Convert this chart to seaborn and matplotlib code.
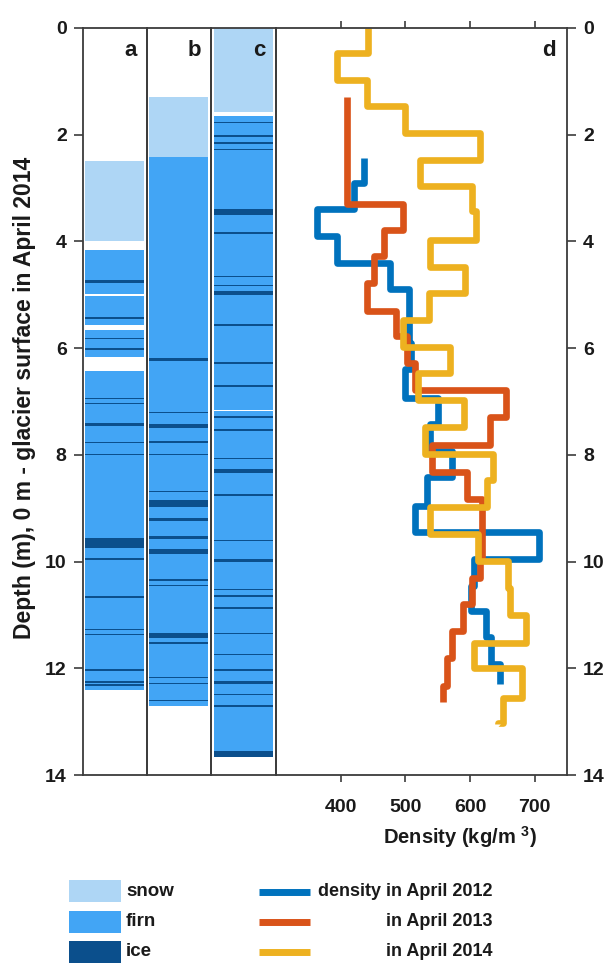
import matplotlib
matplotlib.use("Agg")
import matplotlib.pyplot as plt
import seaborn as sns
import pandas as pd
from matplotlib.patches import Rectangle
from matplotlib.lines import Line2D

# ---------------- data ----------------
# stratigraphy columns: (top, bottom) depth in m
snow_a = [(2.5, 4.0)]
firn_a = [(4.17, 4.99), (5.02, 5.57), (5.66, 6.17), (6.43, 12.4)]
ice_a = [(4.73, 4.77), (5.42, 5.46), (5.81, 5.82), (6.0, 6.04), (6.74, 6.75), (6.94, 6.95),
         (7.03, 7.04), (7.12, 7.13), (7.40, 7.46), (7.76, 7.77), (7.99, 8.0), (8.35, 8.36),
         (9.55, 9.74), (9.94, 9.97), (10.04, 10.05), (10.65, 10.69), (11.26, 11.29),
         (11.35, 11.38), (12.02, 12.05), (12.23, 12.27), (12.30, 12.33)]

snow_b = [(1.3, 2.42)]
firn_b = [(2.42, 12.7)]
ice_b = [(3.59, 3.60), (6.19, 6.25), (7.20, 7.21), (7.43, 7.50), (7.74, 7.78), (7.98, 8.0),
         (8.68, 8.69), (8.84, 8.97), (9.19, 9.24), (9.53, 9.57), (9.77, 9.85), (10.33, 10.36),
         (10.43, 10.45), (11.33, 11.44), (11.50, 11.54), (12.17, 12.19), (12.27, 12.29),
         (12.60, 12.62)]

snow_c = [(0.0, 1.58)]
firn_c = [(1.65, 7.15), (7.18, 13.67)]
ice_c = [(1.76, 1.78), (2.0, 2.04), (2.13, 2.17), (2.26, 2.28), (3.40, 3.51), (3.82, 3.86),
         (4.65, 4.67), (4.82, 4.84), (4.93, 5.0), (5.34, 5.35), (5.55, 5.58), (5.88, 5.89),
         (5.97, 5.98), (6.26, 6.30), (6.70, 6.72), (7.27, 7.31), (7.52, 7.56), (8.06, 8.07),
         (8.26, 8.34), (8.74, 8.78), (9.29, 9.30), (9.59, 9.61), (9.96, 10.0), (10.52, 10.54),
         (10.63, 10.67), (10.86, 10.89), (11.33, 11.35), (11.73, 11.75), (12.01, 12.05),
         (12.23, 12.29), (12.49, 12.51), (12.69, 12.73), (13.55, 13.66)]

# density profiles: layer boundaries (m) and density per layer (kg/m3)
bounds_2012 = [2.43, 2.9, 3.4, 3.9, 4.4, 4.9, 5.9, 6.4, 6.93, 7.42, 7.93, 8.42, 8.95,
               9.45, 9.95, 10.45, 10.92, 11.42, 11.92, 12.3]
dens_2012 = [436, 420, 364, 395, 477, 505, 508, 500, 551, 538, 572, 533, 515, 707, 606,
             601, 625, 633, 646]

bounds_2013 = [1.3, 3.29, 3.78, 4.28, 4.78, 5.31, 5.78, 6.28, 6.79, 7.29, 7.82, 8.32,
               8.83, 9.92, 10.3, 10.8, 11.3, 11.8, 12.33, 12.64]
dens_2013 = [410, 497, 467, 451, 441, 485, 503, 515, 656, 631, 541, 596, 618, 615, 603,
             589, 572, 564, 559]

bounds_2014 = [0.0, 0.47, 0.97, 1.47, 1.97, 2.47, 2.97, 3.43, 3.97, 4.47, 4.97, 5.47,
               5.97, 6.47, 6.97, 7.48, 7.99, 8.48, 8.98, 9.48, 9.98, 10.5, 11.0, 11.52,
               12.0, 12.55, 13.02, 13.05]
dens_2014 = [443, 395, 441, 500, 616, 523, 603, 610, 538, 592, 536, 497, 569, 520, 591,
             531, 635, 626, 538, 613, 659, 662, 687, 606, 680, 651, 643]

panel_letters = ["a", "b", "c", "d"]
depth_ticks = [0, 2, 4, 6, 8, 10, 12, 14]
density_ticks = [400, 500, 600, 700]
layer_names = ["snow", "firn", "ice"]
layer_colors = ["#AED6F5", "#42A5F5", "#0B4F8C"]
line_labels = ["density in April 2012", "in April 2013", "in April 2014"]
line_colors = ["#0072BD", "#D95319", "#EDB120"]

# ---------------- style ----------------
sns.set_style("ticks")
plt.rcParams["font.family"] = ["Liberation Sans", "DejaVu Sans"]
plt.rcParams["font.weight"] = "bold"
plt.rcParams["mathtext.fontset"] = "custom"
plt.rcParams["mathtext.rm"] = "Liberation Sans:bold"
plt.rcParams["mathtext.bf"] = "Liberation Sans:bold"
plt.rcParams["mathtext.default"] = "rm"
txt_c = "#1a1a1a"
plt.rcParams["text.color"] = txt_c
plt.rcParams["axes.labelcolor"] = txt_c
plt.rcParams["xtick.labelcolor"] = txt_c
plt.rcParams["ytick.labelcolor"] = txt_c

W, H = 605, 964
fig = plt.figure(figsize=(W / 100, H / 100), dpi=100)

def rect(x0, x1, yt, yb):
    return [x0 / W, 1 - yb / H, (x1 - x0) / W, (yb - yt) / H]

YT, YB = 28, 775
spine_c = "#3c3c3c"
tick_fs = 14

# legend overlay (behind)
lax = fig.add_axes([0, 0, 1, 1], zorder=-1)
lax.set_xlim(0, W)
lax.set_ylim(H, 0)
lax.axis("off")

ax_a = fig.add_axes(rect(82.7, 146.7, YT, YB))
ax_b = fig.add_axes(rect(146.7, 211.0, YT, YB))
ax_c = fig.add_axes(rect(211.0, 276.0, YT, YB))
ax_d = fig.add_axes(rect(276.0, 567.0, YT, YB))

columns = [(ax_a, snow_a, firn_a, ice_a), (ax_b, snow_b, firn_b, ice_b),
           (ax_c, snow_c, firn_c, ice_c)]
for ax, snow, firn, ice in columns:
    for layers, col in zip([snow, firn, ice], layer_colors):
        tops = [t for t, b in layers]
        thick = [b - t for t, b in layers]
        ax.barh(y=tops, width=0.92, height=thick, left=0.04, align="edge",
                color=col, linewidth=0)
    ax.set_xlim(0, 1)

for ax in [ax_a, ax_b, ax_c, ax_d]:
    ax.set_ylim(14, 0)
    for s in ax.spines.values():
        s.set_visible(True)
        s.set_color(spine_c)
        s.set_linewidth(1.3)
    ax.set_facecolor("none")

for ax in [ax_a, ax_b, ax_c]:
    ax.set_xticks([])
ax_a.set_yticks(depth_ticks)
ax_a.tick_params(axis="y", direction="out", length=6.5, width=1.2, pad=5,
                 labelsize=tick_fs, color=spine_c)
for t in ax_a.get_yticklabels():
    t.set_fontweight("bold")
ax_b.set_yticks([])
ax_c.set_yticks([])

# density profiles
for bnds, dens, col in [(bounds_2012, dens_2012, line_colors[0]),
                        (bounds_2013, dens_2013, line_colors[1]),
                        (bounds_2014, dens_2014, line_colors[2])]:
    xs, ys = [], []
    for i, v in enumerate(dens):
        xs += [v, v]
        ys += [bnds[i], bnds[i + 1]]
    df = pd.DataFrame({"density": xs, "depth": ys})
    sns.lineplot(data=df, x="density", y="depth", sort=False, estimator=None,
                 color=col, linewidth=4.8, ax=ax_d, legend=False,
                 solid_capstyle="butt", solid_joinstyle="round")

ax_d.set_xlim(300, 750)
ax_d.set_ylim(14, 0)
ax_d.set_xticks(density_ticks)
ax_d.set_yticks(depth_ticks)
ax_d.yaxis.tick_right()
ax_d.tick_params(axis="x", which="both", top=True, bottom=True, direction="out",
                 length=5, width=1.2, pad=12, labelsize=tick_fs, color=spine_c)
ax_d.tick_params(axis="y", left=False, right=True, labelleft=False, labelright=True,
                 direction="out", length=6.5, width=1.2, pad=5, labelsize=tick_fs,
                 color=spine_c)
for t in ax_d.get_xticklabels() + ax_d.get_yticklabels():
    t.set_fontweight("bold")
ax_d.set_ylabel("")
ax_d.set_xlabel(r"Density (kg/m $^{3}$)", fontsize=14.5, fontweight="bold")
ax_d.xaxis.set_label_coords(0.632, -0.066)

ax_a.set_ylabel("Depth (m), 0 m - glacier surface in April 2014", fontsize=16.5,
                fontweight="bold")
ax_a.yaxis.set_label_coords(-0.73, 0.505)

# panel letters
for ax, letter, xp in zip([ax_a, ax_b, ax_c, ax_d], panel_letters,
                          [0.84, 0.84, 0.84, 0.96]):
    ax.text(xp, 0.43, letter, transform=ax.get_yaxis_transform(), ha="right",
            va="center", fontsize=16, fontweight="bold")

# legend
for i, (name, col) in enumerate(zip(layer_names, layer_colors)):
    yc = 891 + 30.5 * i
    lax.add_patch(Rectangle((69, yc - 11), 51.7, 22, color=col, lw=0))
    lax.text(126, yc, name, ha="left", va="center", fontsize=13.5, fontweight="bold")
for i, (lab, col) in enumerate(zip(line_labels, line_colors)):
    yc = 891.5 + 30 * i
    lax.add_line(Line2D([259, 310], [yc, yc], color=col, lw=5, solid_capstyle="butt"))
    lax.text(493, yc, lab, ha="right", va="center", fontsize=13, fontweight="bold")

fig.savefig("out.png", dpi=100)
